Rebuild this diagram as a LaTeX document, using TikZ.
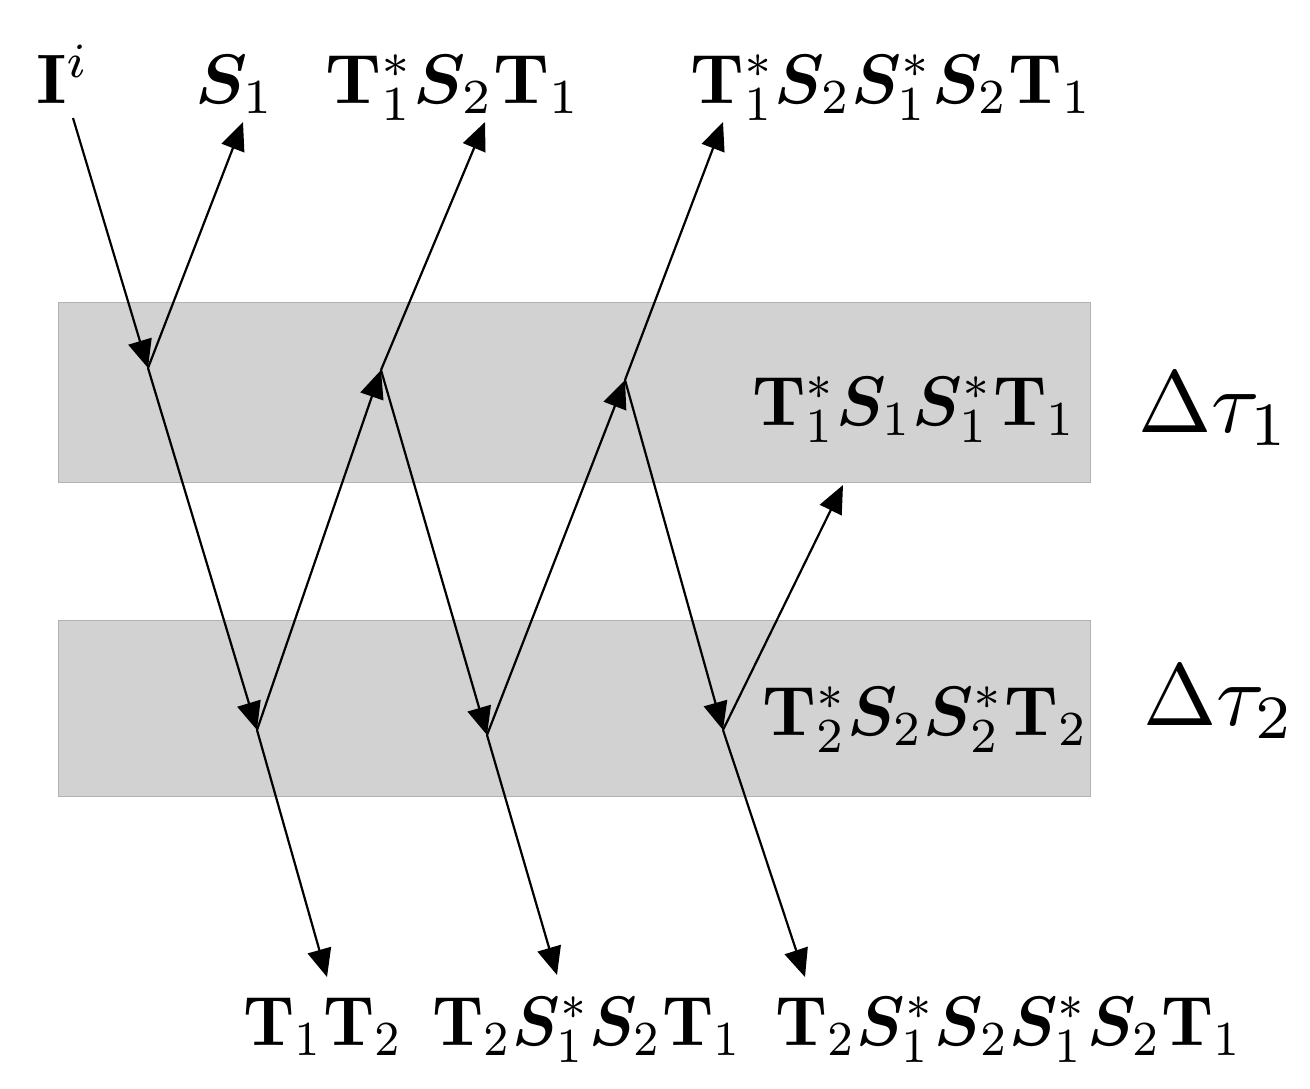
\documentclass[tikz,border=0pt]{standalone}
\usepackage{amsmath}
\usepackage{bm}
\usetikzlibrary{arrows.meta}
\newcommand{\Tb}{\mathbf{T}}
\newcommand{\Sb}{\bm{S}}
\newcommand{\Ib}{\mathbf{I}}
\newcommand{\biglab}[2][3.5]{\scalebox{#1}[3.5]{#2}}
\newcommand{\bigtau}[1]{\scalebox{4.4}{#1}}
\begin{document}
\begin{tikzpicture}[x=0.5pt,y=-0.5pt,
  band/.style={fill=gray!35,draw=gray!60,line width=0.4pt},
  ray/.style={line width=1.1pt,-{Triangle[length=14pt,width=12pt]}},
  lab/.style={inner sep=0pt,anchor=base west},
  tau/.style={inner sep=0pt,anchor=base west}]
\useasboundingbox (0,0) rectangle (1310,1088);
% bands
\path[band] (58,302) rectangle (1090,482);
\path[band] (58,620) rectangle (1090,796);
% interaction points and free ends
\coordinate (I0) at (73,118);
\coordinate (P1) at (148,368);
\coordinate (E1) at (243,122);
\coordinate (P2) at (257,730);
\coordinate (E2) at (327,977);
\coordinate (P3) at (381,370);
\coordinate (E3) at (485,122);
\coordinate (P4) at (487,735);
\coordinate (E4) at (557,975);
\coordinate (P5) at (625,380);
\coordinate (E5) at (723,122);
\coordinate (P6) at (723,730);
\coordinate (E6) at (805,977);
\coordinate (E7) at (843,485);
% rays
\draw[ray] (I0) -- (P1);
\draw[ray] (P1) -- (E1);
\draw[ray] (P1) -- (P2);
\draw[ray] (P2) -- (E2);
\draw[ray] (P2) -- (P3);
\draw[ray] (P3) -- (E3);
\draw[ray] (P3) -- (P4);
\draw[ray] (P4) -- (E4);
\draw[ray] (P4) -- (P5);
\draw[ray] (P5) -- (E5);
\draw[ray] (P5) -- (P6);
\draw[ray] (P6) -- (E6);
\draw[ray] (P6) -- (E7);
% labels
\node[lab] (lI) at (36,103) {\biglab{$\Ib^{i}$}};
\node[lab] (lS1) at (195,103) {\biglab{$\Sb_1$}};
\node[lab] (lT1) at (325,103) {\biglab{$\Tb_1^{*}\Sb_2\Tb_1$}};
\node[lab] (lT2) at (690,103) {\biglab[3.35]{$\Tb_1^{*}\Sb_2\Sb_1^{*}\Sb_2\Tb_1$}};
\node[lab] (lB1) at (752,425) {\biglab[3.34]{$\Tb_1^{*}\Sb_1\Sb_1^{*}\Tb_1$}};
\node[lab] (lB2) at (762,735) {\biglab[3.36]{$\Tb_2^{*}\Sb_2\Sb_2^{*}\Tb_2$}};
\node[tau] (d1) at (1138,432) {\bigtau{$\Delta\tau_1$}};
\node[tau] (d2) at (1143,725) {\bigtau{$\Delta\tau_2$}};
\node[lab] (b1) at (243,1045) {\biglab[3.2]{$\Tb_1\Tb_2$}};
\node[lab] (b2) at (432,1045) {\biglab[3.2]{$\Tb_2\Sb_1^{*}\Sb_2\Tb_1$}};
\node[lab] (b3) at (775,1045) {\biglab[3.25]{$\Tb_2\Sb_1^{*}\Sb_2\Sb_1^{*}\Sb_2\Tb_1$}};
\end{tikzpicture}
\end{document}
